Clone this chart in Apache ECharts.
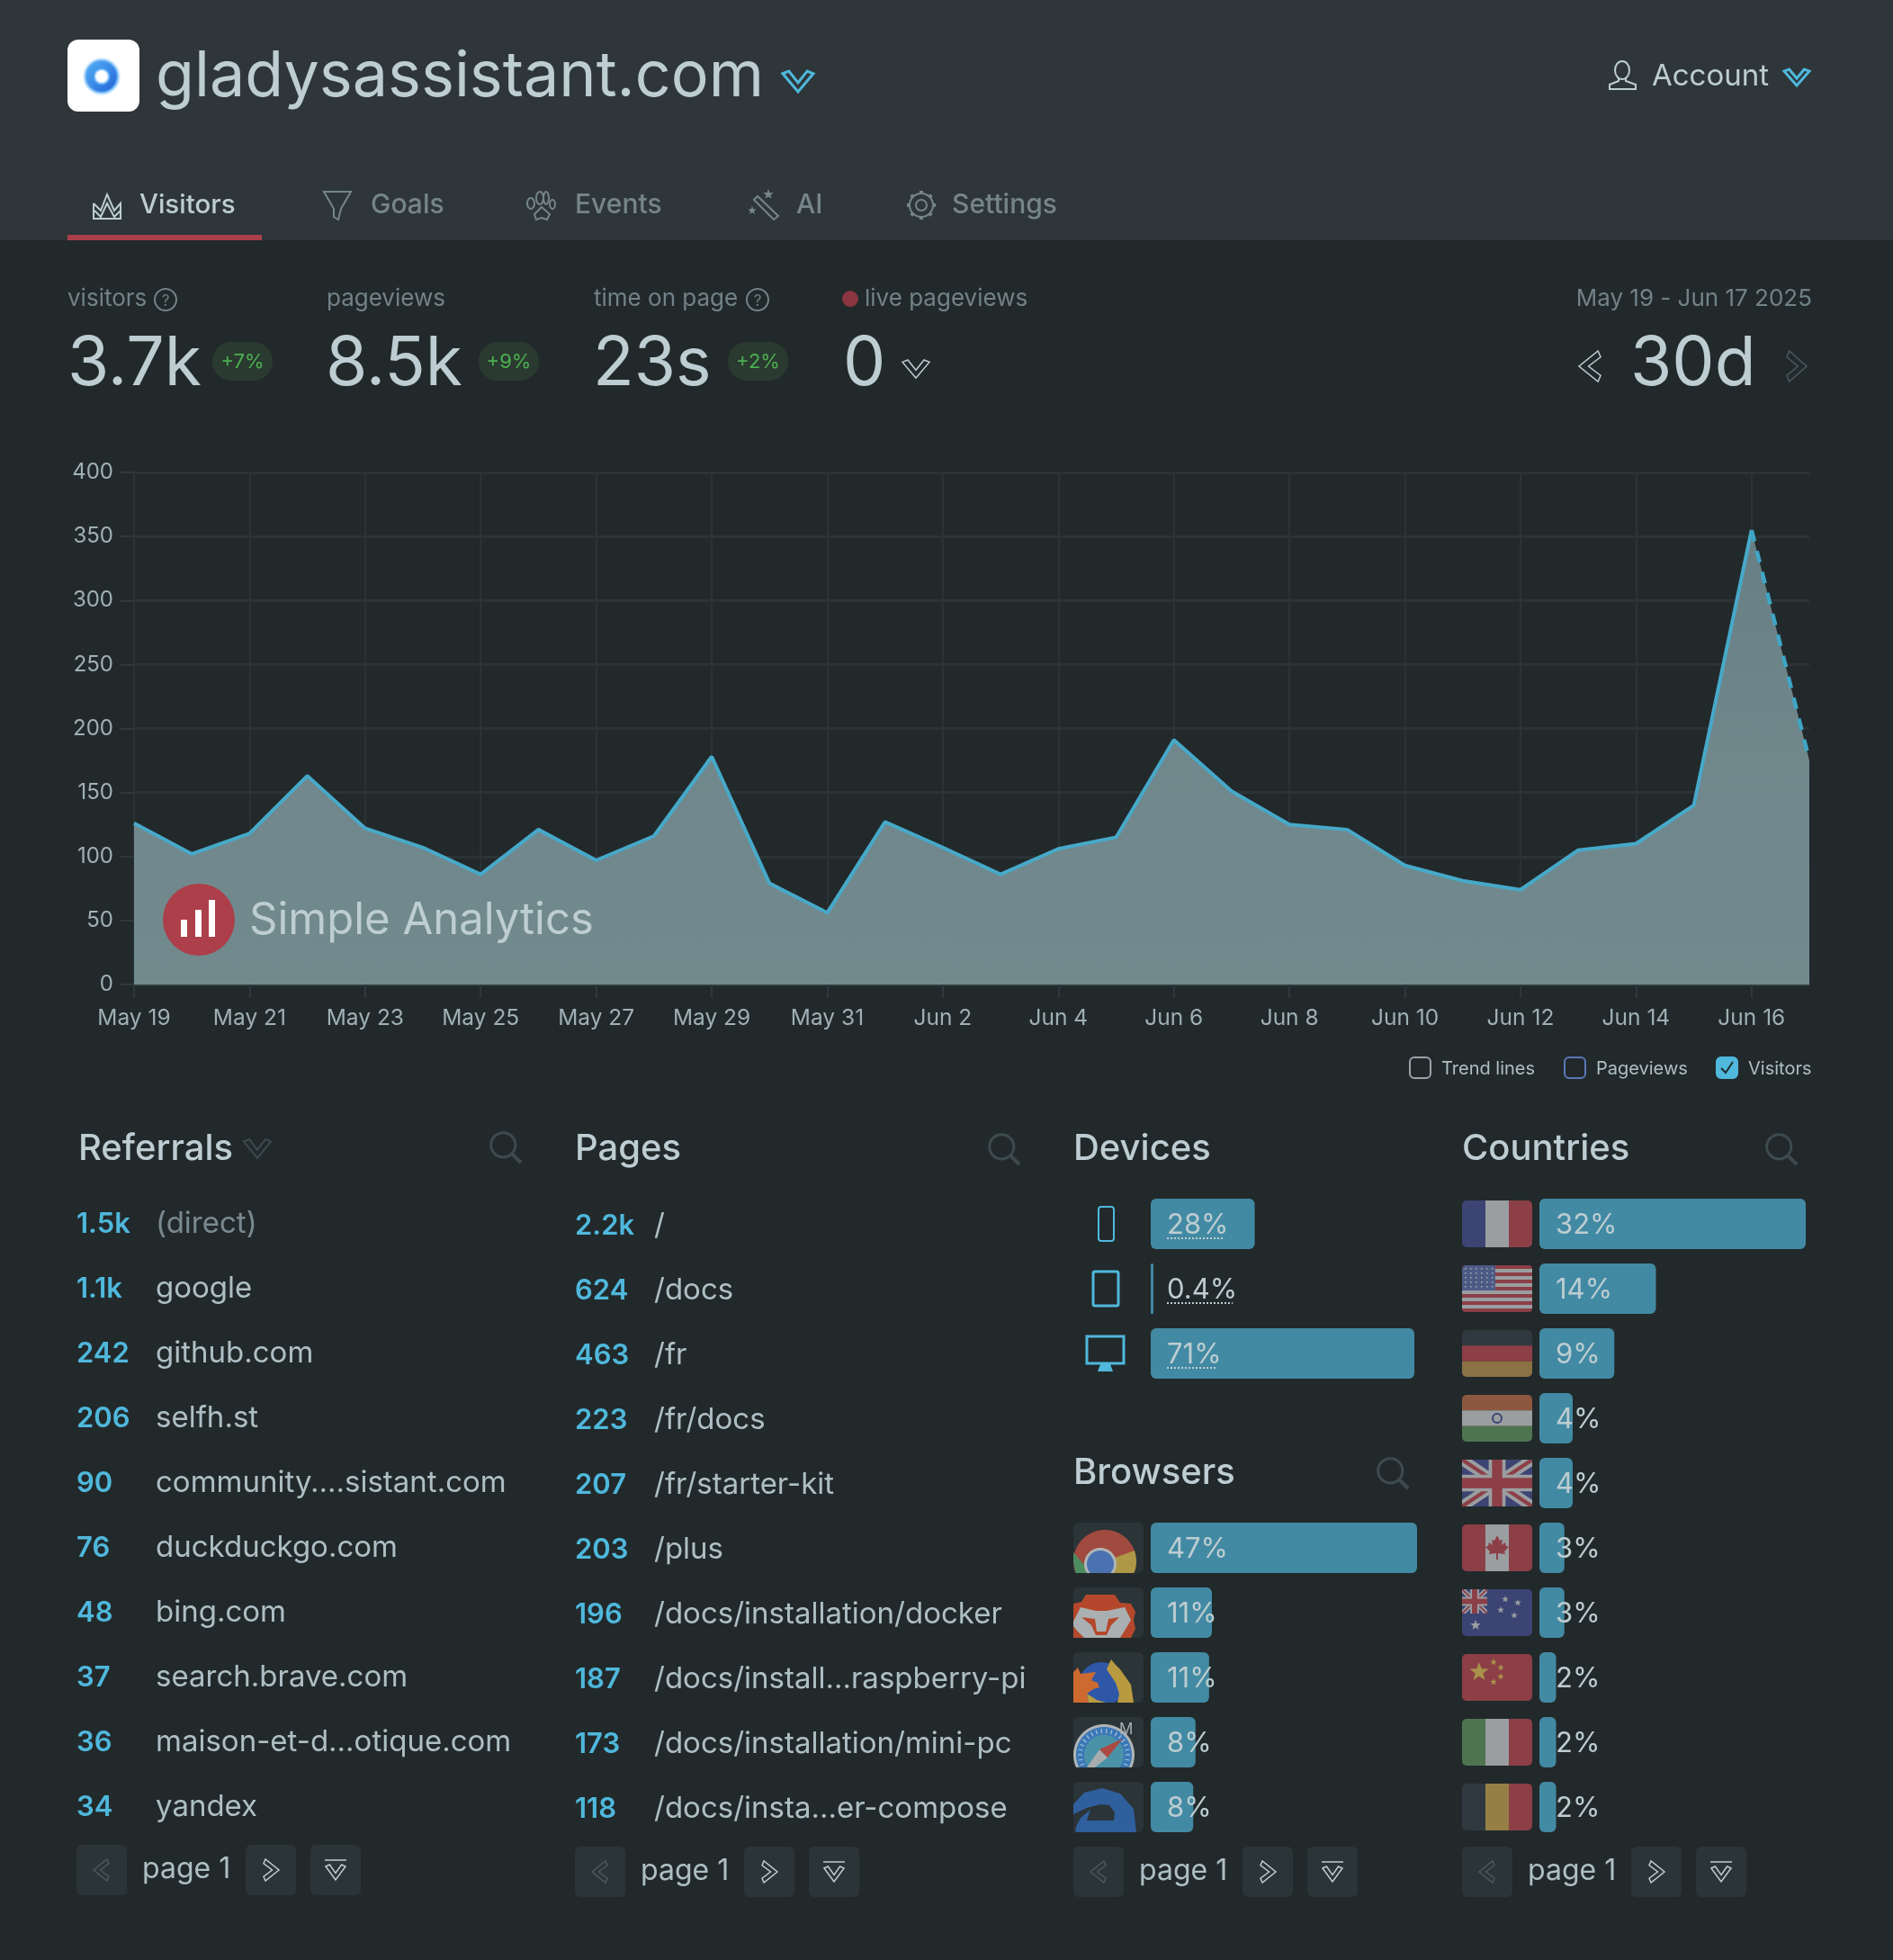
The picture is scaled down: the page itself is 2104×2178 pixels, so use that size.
<!DOCTYPE html>
<html>
<head>
<meta charset="utf-8">
<title>gladysassistant.com</title>
<script src="https://cdn.jsdelivr.net/npm/echarts@6/dist/echarts.min.js"></script>
<style>
  html, body { margin: 0; padding: 0; background: #22292b; }
  #chart { width: 2104px; height: 2178px; }
</style>
</head>
<body>
<div id="chart"></div>
<script>
const days = ["May 19","May 20","May 21","May 22","May 23","May 24","May 25","May 26","May 27","May 28","May 29","May 30","May 31","Jun 1","Jun 2","Jun 3","Jun 4","Jun 5","Jun 6","Jun 7","Jun 8","Jun 9","Jun 10","Jun 11","Jun 12","Jun 13","Jun 14","Jun 15","Jun 16","Jun 17"];
const visitors = [126,102,118,163,122,107,86,121,97,116,178,79,56,127,107,86,106,115,191,151,125,121,93,81,74,105,110,140,355,175];

const referralCounts = ["1.5k","1.1k","242","206","90","76","48","37","36","34"];
const referralNames = ["(direct)","google","github.com","selfh.st","community....sistant.com","duckduckgo.com","bing.com","search.brave.com","maison-et-d...otique.com","yandex"];
const pageCounts = ["2.2k","624","463","223","207","203","196","187","173","118"];
const pageNames = ["/","/docs","/fr","/fr/docs","/fr/starter-kit","/plus","/docs/installation/docker","/docs/install...raspberry-pi","/docs/installation/mini-pc","/docs/insta...er-compose"];

const deviceNames = ["mobile","tablet","desktop"];
const deviceShares = [28,0.4,71];
const deviceLabels = ["28%","0.4%","71%"];
const browserNames = ["Chrome","Brave","Firefox","Safari","Edge"];
const browserShares = [47,10.8,10.3,7.9,7.5];
const browserLabels = ["47%","11%","11%","8%","8%"];
const countryNames = ["France","United States","Germany","India","United Kingdom","Canada","Australia","China","Italy","Belgium"];
const countryShares = [32,14,9,4,4,3,3,2,2,2];
const countryLabels = ["32%","14%","9%","4%","4%","3%","3%","2%","2%","2%"];

const FONT = "Inter";
const LIGHT = "#bdcdd1";
const DIM = "#728287";
const BLUE = "#4fb8dc";
const BAR = "#428aa3";
const RED = "#ac3f4a";
const TILE = "#2b3437";

// graphic helpers, everything on the page that is not a chart mark
const els = [];
function text(x, base, str, size, fill, opt) {
  els.push({ type: "text", z: 10, silent: true, x: x, y: base - size * 0.30,
    style: Object.assign({ text: str, fontFamily: FONT, fontSize: size, fill: fill, align: "left", verticalAlign: "middle" }, opt || {}) });
}
function rect(x, y, w, h, fill, r) {
  els.push({ type: "rect", z: 10, silent: true, shape: { x: x, y: y, width: w, height: h, r: r || 0 }, style: { fill: fill } });
}
function box(x, y, w, h, stroke, lw, r, fill) {
  els.push({ type: "rect", z: 10, silent: true, shape: { x: x, y: y, width: w, height: h, r: r || 0 }, style: { fill: fill || "none", stroke: stroke, lineWidth: lw } });
}
function stroke(pts, color, lw, dash, smooth) {
  els.push({ type: "polyline", z: 10, silent: true, shape: { points: pts, smooth: smooth || 0 }, style: { fill: "none", stroke: color, lineWidth: lw, lineDash: dash || null } });
}
function poly(pts, fill, lineColor, lw) {
  els.push({ type: "polygon", z: 10, silent: true, shape: { points: pts }, style: { fill: fill, stroke: lineColor || null, lineWidth: lw || 0 } });
}
function circle(cx, cy, r, fill, lineColor, lw) {
  els.push({ type: "circle", z: 10, silent: true, shape: { cx: cx, cy: cy, r: r }, style: { fill: fill, stroke: lineColor || null, lineWidth: lw || 0 } });
}
function chevron(x, y, w, h, color, lw, dir) {
  let pts = [[0,.12],[.2,0],[.5,.56],[.8,0],[1,.12],[.5,1]];
  if (dir === "left") pts = pts.map(p => [1 - p[1], p[0]]);
  if (dir === "right") pts = pts.map(p => [p[1], 1 - p[0]]);
  poly(pts.map(p => [x + p[0] * w, y + p[1] * h]), "none", color, lw);
}
function search(x, y, s, color) {
  circle(x + s * 0.42, y + s * 0.42, s * 0.40, "none", color, 3);
  stroke([[x + s * 0.72, y + s * 0.72], [x + s, y + s]], color, 4);
}
function star(cx, cy, r, fill) {
  const pts = [];
  for (let i = 0; i < 10; i++) {
    const a = -Math.PI / 2 + i * Math.PI / 5, k = i % 2 ? r * 0.42 : r;
    pts.push([cx + k * Math.cos(a), cy + k * Math.sin(a)]);
  }
  poly(pts, fill);
}

// header band
rect(0, 0, 2104, 267, "#2e363a");
rect(75, 44, 80, 80, "#ffffff", 12);
// logo ring, stacked to get the soft edge
[[21, 6, "rgba(120,190,250,0.25)"], [19.5, 7, "rgba(90,170,245,0.45)"], [18, 8, "rgba(60,150,240,0.7)"]].forEach(r => {
  els.push({ type: "ring", z: 10, silent: true, shape: { cx: 113, cy: 85, r: r[0], r0: r[1] }, style: { fill: r[2] } });
});
els.push({ type: "ring", z: 10, silent: true, shape: { cx: 113, cy: 85, r: 16.5, r0: 9.5 },
  style: { fill: new echarts.graphic.LinearGradient(0, 0, 1, 1, [{ offset: 0, color: "#52aef5" }, { offset: 1, color: "#2464d8" }]) } });
text(173, 107, "gladysassistant.com", 70, LIGHT);
chevron(870, 79, 34, 23, BLUE, 3);
els.push({ type: "ellipse", z: 10, silent: true, shape: { cx: 1803, cy: 78, rx: 8, ry: 10 }, style: { fill: "none", stroke: LIGHT, lineWidth: 2 } });
stroke([[1799,87],[1799,90],[1789,94],[1789,99],[1818,99],[1818,94],[1807,90],[1807,87]], LIGHT, 2);
text(1836, 95, "Account", 33, LIGHT);
chevron(1983, 77, 28, 18, BLUE, 3);

// tabs
const tabNames = ["Visitors","Goals","Events","AI","Settings"];
const tabX = [155, 412, 639, 885, 1058];
tabNames.forEach((t, i) => text(tabX[i], 237, t, i === 0 ? 29.5 : 30, i === 0 ? LIGHT : "#75858a", { fontWeight: 500 }));
rect(75, 261, 216, 6, RED);
stroke([[104,226],[112,234],[119,216],[127,234],[134,226],[134,243],[104,243],[104,226]], LIGHT, 2);
stroke([[105,234],[112,241],[119,226],[127,241],[134,234]], LIGHT, 2);
poly([[360,213],[390,213],[379,232],[376,244],[371,241],[371,232]], "none", "#75858a", 2);
[[591,226,4,6],[601,220,4,7],[608,220,3,7],[615,227,3,5]].forEach(p => els.push({ type: "ellipse", z: 10, silent: true, shape: { cx: p[0] - 1, cy: p[1], rx: p[2], ry: p[3] }, style: { fill: "none", stroke: "#75858a", lineWidth: 2 } }));
poly([[602,230],[594,238],[596,244],[602,242],[608,244],[611,238]], "none", "#75858a", 2);
poly([[838,222],[842,218],[865,240],[860,244]], "none", "#75858a", 2);
star(854, 216, 6, "#75858a");
star(836, 234, 5, "#75858a");
circle(1024, 228, 6, "none", "#75858a", 2);
circle(1024, 228, 13, "none", "#75858a", 2);
for (let k = 0; k < 8; k++) {
  const a = k * Math.PI / 4;
  stroke([[1024 + 13 * Math.cos(a), 228 + 13 * Math.sin(a)], [1024 + 16 * Math.cos(a), 228 + 16 * Math.sin(a)]], "#75858a", 4);
}

// stat row
const statLabels = ["visitors","pageviews","time on page","live pageviews"];
const statLabelX = [75, 363, 660, 961];
const statValues = ["3.7k","8.5k","23s","0"];
const statValueX = [75, 362, 659, 937];
const statBadges = ["+7%","+9%","+2%"];
const badgeX = [236, 532, 809];
statLabels.forEach((t, i) => text(statLabelX[i], 340, t, 26, DIM));
statValues.forEach((t, i) => text(statValueX[i], 428, t, 75, LIGHT));
statBadges.forEach((t, i) => {
  rect(badgeX[i], 380, 67, 43, "#2a3a30", 21);
  text(badgeX[i] + 33.5, 409, t, 22, "#4caf50", { align: "center" });
});
[[184,333],[842,333]].forEach(p => {
  circle(p[0], p[1], 12, "none", DIM, 2);
  text(p[0], 340, "?", 17, DIM, { align: "center" });
});
circle(945, 332, 9, "#8b3640");
chevron(1003, 400, 30, 20, LIGHT, 1.5);
text(2014, 340, "May 19 - Jun 17 2025", 26, DIM, { align: "right" });
text(1812, 428, "30d", 75, LIGHT);
chevron(1755, 390, 24, 34, LIGHT, 1.5, "left");
chevron(1986, 390, 22, 34, "#4a5a5f", 1.5, "right");

// watermark on the area
circle(221, 1022, 40, RED);
rect(201, 1022, 7, 19, "#ffffff");
rect(217, 1011, 7, 30, "#ffffff");
rect(232, 1000, 7, 41, "#ffffff");
text(277, 1038, "Simple Analytics", 49, LIGHT);

// legend row
const legendLabels = ["Trend lines","Pageviews","Visitors"];
const legendBoxX = [1567, 1739, 1908];
const legendStroke = ["#9aa3a8","#5a78b8",BLUE];
legendLabels.forEach((t, i) => {
  box(legendBoxX[i], 1175, 23, 23, legendStroke[i], 2, 5, i === 2 ? BLUE : null);
  text(legendBoxX[i] + 35, 1194, t, 20, "#aebfc3");
});
stroke([[1913,1187],[1918,1192],[1926,1180]], "#22292b", 2);

// list and panel titles
const titleBase = 1289;
text(87, titleBase, "Referrals", 40, LIGHT, { fontWeight: 500 });
chevron(271, 1266, 30, 21, "#3d4a4e", 2);
text(639, titleBase, "Pages", 40, LIGHT, { fontWeight: 500 });
text(1193, titleBase, "Devices", 40, LIGHT, { fontWeight: 500 });
text(1625, titleBase, "Countries", 40, LIGHT, { fontWeight: 500 });
text(1193, 1649, "Browsers", 40, LIGHT, { fontWeight: 500 });
search(545, 1258, 34, "#3d4a4e");
search(1099, 1260, 34, "#3d4a4e");
search(1963, 1260, 34, "#3d4a4e");
search(1531, 1620, 34, "#3d4a4e");

// referral and page rows
const rowStep = 72;
referralCounts.forEach((c, i) => {
  const y = 1370 + i * rowStep;
  text(85, y, c, 31, BLUE, { fontWeight: 600 });
  text(173, y, referralNames[i], 33, i === 0 ? "#7a8a8f" : "#aebfc3");
});
pageCounts.forEach((c, i) => {
  const y = 1372 + i * rowStep;
  text(639, y, c, 31, BLUE, { fontWeight: 600 });
  text(727, y, pageNames[i], 33, "#aebfc3");
});

// pagers
function pager(x, y) {
  rect(x, y, 56, 56, TILE, 6);
  chevron(x + 19, y + 16, 17, 24, "#4a5a5f", 1.5, "left");
  text(x + 73, y + 37, "page 1", 32, "#aebfc3");
  rect(x + 188, y, 56, 56, TILE, 6);
  chevron(x + 208, y + 16, 17, 24, LIGHT, 1.5, "right");
  rect(x + 260, y, 56, 56, TILE, 6);
  stroke([[x + 276, y + 17], [x + 300, y + 17]], LIGHT, 1.5);
  chevron(x + 277, y + 22, 22, 17, LIGHT, 1.5);
}
pager(85, 2050);
pager(639, 2052);
pager(1193, 2052);
pager(1625, 2052);

// device icons
box(1221, 1341, 17, 38, BLUE, 2, 3);
box(1215, 1413, 28, 38, BLUE, 3, 2);
box(1208, 1485, 41, 30, BLUE, 3);
poly([[1223,1516],[1234,1516],[1237,1524],[1220,1524]], BLUE);

// device value underlines
[[1297,1361,1376],[1297,1370,1448],[1297,1353,1520]].forEach(p => stroke([[p[0], p[2]], [p[1], p[2]]], LIGHT, 2, [2, 2]));

// country flags
const FLAG_X = 1625, FLAG_W = 78, FLAG_H = 52;
const fBlue = "#3c4474", fWhite = "#9a9ea0", fRed = "#8c3f47", fGreen = "#4f7450", fYellow = "#957f45", fBlack = "#30393f";
function flagY(i) { return 1334 + i * rowStep; }
function vStripes(i, cols) {
  const w = FLAG_W / cols.length;
  cols.forEach((c, k) => rect(FLAG_X + k * w, flagY(i), w, FLAG_H, c, [k === 0 ? 5 : 0, k === cols.length - 1 ? 5 : 0, k === cols.length - 1 ? 5 : 0, k === 0 ? 5 : 0]));
}
function hStripes(i, cols) {
  const h = FLAG_H / cols.length;
  cols.forEach((c, k) => rect(FLAG_X, flagY(i) + k * h, FLAG_W, h, c, [k === 0 ? 5 : 0, k === 0 ? 5 : 0, k === cols.length - 1 ? 5 : 0, k === cols.length - 1 ? 5 : 0]));
}
function union(x, y, w, h) {
  const band = (t, c) => {
    const d = w * t, e = h * t;
    poly([[x,y],[x+d,y],[x+w,y+h-e],[x+w,y+h],[x+w-d,y+h],[x,y+e]], c);
    poly([[x+w,y],[x+w-d,y],[x,y+h-e],[x,y+h],[x+d,y+h],[x+w,y+e]], c);
  };
  band(0.14, fWhite);
  band(0.05, fRed);
  rect(x + w / 2 - h * 0.18, y, h * 0.36, h, fWhite);
  rect(x, y + h * 0.32, w, h * 0.36, fWhite);
  rect(x + w / 2 - h * 0.11, y, h * 0.22, h, fRed);
  rect(x, y + h * 0.39, w, h * 0.22, fRed);
}
vStripes(0, [fBlue, fWhite, fRed]);
hStripes(1, Array.from({ length: 13 }, (_, k) => k % 2 ? fWhite : fRed));
rect(FLAG_X, flagY(1), 37, 28, "#4c5a86", [5, 0, 0, 0]);
for (let r = 0; r < 5; r++) for (let c = 0; c < 6; c++) rect(FLAG_X + 3 + c * 6, flagY(1) + 3 + r * 5, 1.6, 1.6, "#a8acb0");
hStripes(2, [fBlack, fRed, "#8a7245"]);
hStripes(3, ["#8d5840", fWhite, fGreen]);
circle(FLAG_X + 39, flagY(3) + 26, 5, "none", fBlue, 2);
rect(FLAG_X, flagY(4), FLAG_W, FLAG_H, fBlue, 5);
union(FLAG_X, flagY(4), FLAG_W, FLAG_H);
vStripes(5, [fRed, fWhite, fRed]);
poly([[0,-14],[3,-8],[6,-9],[5,-3],[9,-6],[10,-2],[13,-1],[8,4],[9,7],[1,6],[1,13],[-1,13],[-1,6],[-9,7],[-8,4],[-13,-1],[-10,-2],[-9,-6],[-5,-3],[-6,-9],[-3,-8]]
  .map(p => [FLAG_X + 39 + p[0], flagY(5) + 26 + p[1]]), fRed);
rect(FLAG_X, flagY(6), FLAG_W, FLAG_H, fBlue, 5);
union(FLAG_X, flagY(6), 28, 27);
[[48,11],[62,15],[43,23],[58,29]].forEach(p => star(FLAG_X + p[0], flagY(6) + p[1], 4, fWhite));
star(FLAG_X + 15, flagY(6) + 40, 6, fWhite);
rect(FLAG_X, flagY(7), FLAG_W, FLAG_H, fRed, 5);
star(FLAG_X + 19, flagY(7) + 20, 11, "#a8914a");
[[35,9],[43,15],[43,25],[35,31]].forEach(p => star(FLAG_X + p[0], flagY(7) + p[1], 4, "#a8914a"));
vStripes(8, [fGreen, fWhite, fRed]);
vStripes(9, [fBlack, fYellow, fRed]);

// browser tiles, icons are cut off by the tile edge
const TILE_X = 1193, TILE_W = 78, TILE_H = 56;
function tileY(i) { return 1692 + i * rowStep; }
function clampPts(i, pts) {
  const top = tileY(i);
  return pts.map(p => [Math.max(TILE_X, Math.min(TILE_X + TILE_W, TILE_X + p[0])), Math.max(top, Math.min(top + TILE_H, top + p[1]))]);
}
function wedge(i, cx, cy, r, a0, a1, fill) {
  const pts = [[cx, cy]];
  for (let a = a0; a <= a1; a += 4) pts.push([cx + r * Math.cos(a * Math.PI / 180), cy + r * Math.sin(a * Math.PI / 180)]);
  poly(clampPts(i, pts), fill);
}
browserNames.forEach((n, i) => rect(TILE_X, tileY(i), TILE_W, TILE_H, TILE, 6));
// Chrome
wedge(0, 35, 43, 35, 120, 345, "#a04a40");
wedge(0, 35, 43, 35, 340, 452, "#ae9846");
poly(clampPts(0, [[0,33],[12,47],[19,56],[2.5,56],[0,43]]), "#4c8c60");
wedge(0, 30, 46, 18, 0, 360, "#b0b4b6");
wedge(0, 30, 46, 15, 0, 360, "#4a72b0");
// Brave
poly(clampPts(1, [[0,18],[9,16],[14,8],[46,8],[52,17],[64,18],[69,27],[67,36],[69,46],[64,56],[0,56]]), "#b5482c");
poly(clampPts(1, [[0,38],[8,22],[25,26],[37,26],[57,22],[64,36],[60,43],[52,56],[12,56],[5,49],[0,43]]), "#aab0b2");
poly(clampPts(1, [[9,33],[24,35],[26,49],[36,49],[39,35],[51,33],[42,42],[37,53],[25,53],[20,42]]), "#b5482c");
// Firefox
wedge(2, 31, 36, 25, 0, 360, "#2f57a8");
poly(clampPts(2, [[42,8],[47,14],[52,19],[64,36],[67,56],[49,56],[51,46],[47,34],[37,19],[40,12]]), "#b89a40");
poly(clampPts(2, [[0,22],[5,17],[8,24],[25,22],[20,31],[27,34],[29,39],[22,41],[15,46],[17,56],[0,56]]), "#cc6a30");
poly(clampPts(2, [[15,46],[26,53],[36,56],[17,56]]), "#b89a40");
// Safari
wedge(3, 34, 42, 34, 0, 360, "#b0b4b6");
wedge(3, 34, 42, 31, 0, 360, "#3a78b8");
wedge(3, 34, 42, 22, 0, 360, "#4a92a8");
for (let k = 0; k < 30; k++) {
  const a = k * Math.PI / 15, x1 = 34 + 24 * Math.cos(a), y1 = 42 + 24 * Math.sin(a), x2 = 34 + 29 * Math.cos(a), y2 = 42 + 29 * Math.sin(a);
  if (y2 < 55 && x2 > 1) stroke([[TILE_X + x1, tileY(3) + y1], [TILE_X + x2, tileY(3) + y2]], "#a8c4d4", 1.2);
}
poly(clampPts(3, [[29,36],[38,45],[24,56],[15,56]]), "#a8acae");
poly(clampPts(3, [[29,36],[38,45],[55,24]]), "#ab4a42");
text(TILE_X + 51, tileY(3) + 19, "M", 17, "#aab0b2");
// Edge
poly(clampPts(4, [[0,25],[12,12],[32,7],[52,13],[67,30],[70,56],[3,56],[0,50]]), "#2f5f9c");
poly(clampPts(4, [[0,36],[15,29],[30,25],[40,26],[46,34],[45,43],[15,43],[19,31],[8,40],[3,50],[2,56],[0,56]]), TILE);

// horizontal share bars, one grid per panel
function barGrid(left, top, width, rows) {
  return { left: left, top: top, width: width, height: rows * rowStep, containLabel: false };
}
const grids = [
  { left: 149, top: 525, width: 1862, height: 569 },
  barGrid(1279, 1324, 293, 3),
  barGrid(1279, 1684, 296, 5),
  barGrid(1711, 1324, 296, 10)
];
const shareMax = [71, 47, 32];
const hiddenCat = (names, idx) => ({ type: "category", gridIndex: idx, data: names, inverse: true, show: false });
const hiddenVal = (idx, max) => ({ type: "value", gridIndex: idx, min: 0, max: max, show: false });
function barSeries(idx, name, shares, labels) {
  return {
    name: name, type: "bar", xAxisIndex: idx, yAxisIndex: idx, data: shares, barWidth: 56, barMinHeight: 3, silent: true,
    itemStyle: { color: BAR, borderRadius: 6 },
    label: { show: true, position: "insideLeft", distance: 18, offset: [0, 2], color: LIGHT, fontFamily: FONT, fontSize: 31,
      formatter: p => labels[p.dataIndex] }
  };
}

const n = visitors.length;
const chart = echarts.init(document.getElementById("chart"));
chart.setOption({
  animation: false,
  backgroundColor: "#22292b",
  grid: grids,
  xAxis: [
    { type: "category", gridIndex: 0, boundaryGap: false, data: days,
      axisLine: { lineStyle: { color: "#3a4649", width: 2 } },
      axisTick: { interval: 1, length: 15, lineStyle: { color: "#2f383b", width: 2 } },
      axisLabel: { interval: 1, margin: 25, color: "#9fb0b4", fontFamily: FONT, fontSize: 24.5 },
      splitLine: { show: true, interval: 1, lineStyle: { color: "#2b3336", width: 2 } } },
    hiddenVal(1, shareMax[0]), hiddenVal(2, shareMax[1]), hiddenVal(3, shareMax[2])
  ],
  yAxis: [
    { type: "value", gridIndex: 0, min: 0, max: 400, interval: 50,
      axisLine: { show: false },
      axisTick: { show: true, length: 16, lineStyle: { color: "#2f383b", width: 2 } },
      axisLabel: { margin: 23, color: "#9fb0b4", fontFamily: FONT, fontSize: 24 },
      splitLine: { lineStyle: { color: "#2b3336", width: 3 } } },
    hiddenCat(deviceNames, 1), hiddenCat(browserNames, 2), hiddenCat(countryNames, 3)
  ],
  series: [
    { name: "area", type: "line", data: visitors, symbol: "none", silent: true, z: 2,
      lineStyle: { width: 0 },
      areaStyle: { opacity: 1, color: new echarts.graphic.LinearGradient(0, 0, 0, 1, [{ offset: 0, color: "#677e84" }, { offset: 0.5, color: "#70878c" }, { offset: 1, color: "#718a8e" }]) } },
    { name: "Visitors", type: "line", data: visitors.map((v, i) => i < n - 1 ? v : null), symbol: "none", silent: true, z: 3,
      lineStyle: { color: "#47a9c9", width: 4 } },
    { name: "Visitors today", type: "line", data: visitors.map((v, i) => i >= n - 2 ? v : null), symbol: "none", silent: true, z: 3,
      lineStyle: { color: "#3fa5c6", width: 4.5, type: [13, 11] } },
    barSeries(1, "Devices", deviceShares, deviceLabels),
    barSeries(2, "Browsers", browserShares, browserLabels),
    barSeries(3, "Countries", countryShares, countryLabels)
  ],
  graphic: { elements: els }
});
</script>
</body>
</html>
